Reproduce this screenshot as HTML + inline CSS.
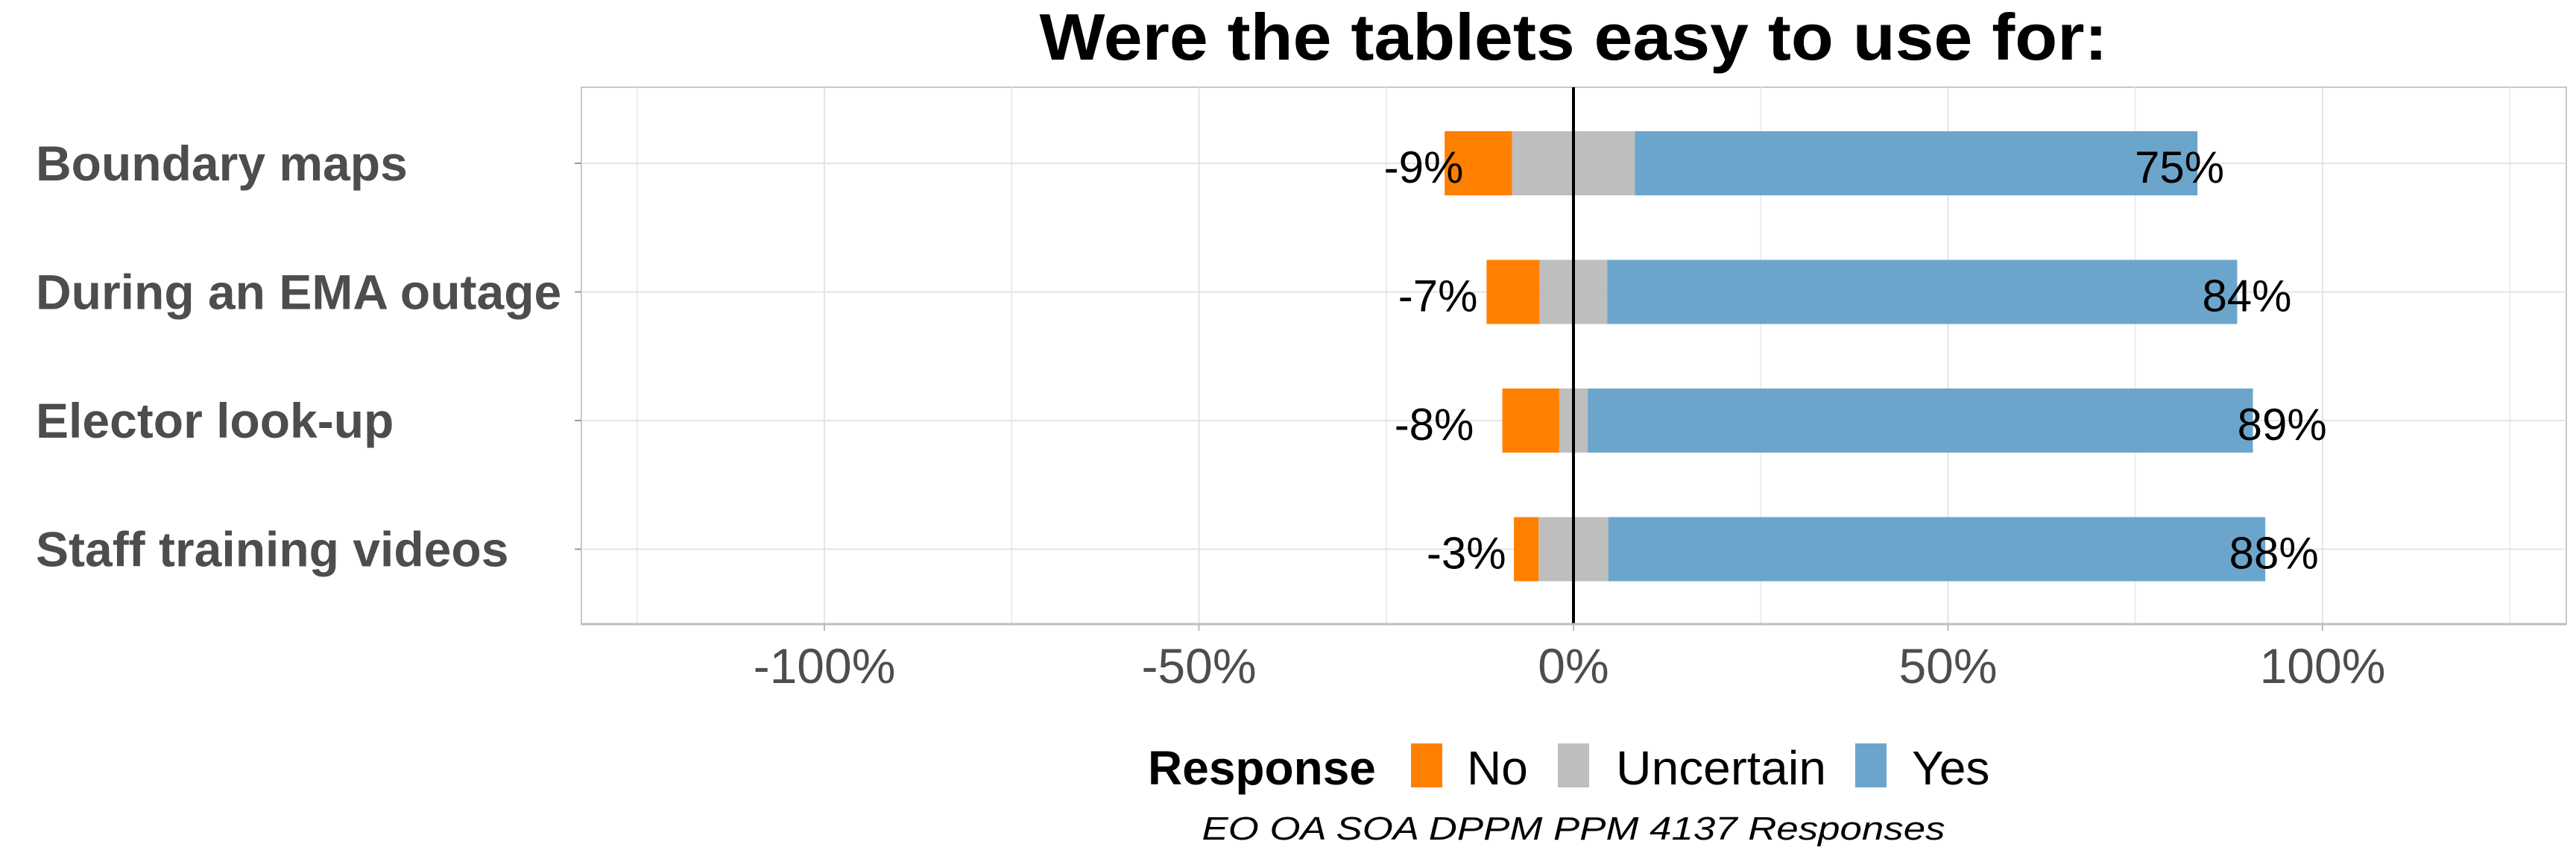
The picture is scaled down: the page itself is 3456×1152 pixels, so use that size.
<!DOCTYPE html>
<html><head><meta charset="utf-8"><style>
html,body{margin:0;padding:0;background:#fff}
svg{display:block}
text{font-family:"Liberation Sans",Arial,sans-serif}
</style></head><body>
<svg id="chart" width="3456" height="1152" viewBox="0 0 3456 1152" xmlns="http://www.w3.org/2000/svg">
<text x="2111" y="80" text-anchor="middle" font-size="88" font-weight="bold" textLength="1433" lengthAdjust="spacingAndGlyphs">Were the tablets easy to use for:</text>
<g id="panel"></g>
<g id="legend">
<text x="1540" y="1052" font-size="64" font-weight="bold">Response</text>
<rect x="1893" y="997" width="42" height="59" fill="#FF8000"/>
<text x="1968" y="1052" font-size="64">No</text>
<rect x="2090" y="997" width="42" height="59" fill="#BEBEBE"/>
<text x="2168" y="1052" font-size="64" textLength="282" lengthAdjust="spacingAndGlyphs">Uncertain</text>
<rect x="2489" y="997" width="42" height="59" fill="#6CA5CC"/>
<text x="2565" y="1052" font-size="64">Yes</text>
</g>
<text x="2111" y="1126" text-anchor="middle" font-size="44" font-style="italic" textLength="997" lengthAdjust="spacingAndGlyphs">EO OA SOA DPPM PPM 4137 Responses</text>
</svg>
<script>
const categories = ["Boundary maps","During an EMA outage","Elector look-up","Staff training videos"];
const noVals = [9.0, 7.1, 7.6, 3.3];
const uncertainVals = [16.4, 9.0, 3.8, 9.3];
const yesVals = [75.1, 84.1, 88.8, 87.7];
const noLabels = ["-9%","-7%","-8%","-3%"];
const yesLabels = ["75%","84%","89%","88%"];
const xTicks = [-100,-50,0,50,100];
const xMinor = [-125,-75,-25,25,75,125];

const NS="http://www.w3.org/2000/svg";
const L=780,R=3443,T=117,B=837,X0=2111,PX=10.05;
const x = v => X0 + v*PX;
const rowY = i => 219 + i*172.5;
const BH=86;
const panel=document.getElementById('panel');
function mk(tag,attrs,parent){const e=document.createElementNS(NS,tag);for(const k in attrs)e.setAttribute(k,attrs[k]);(parent||panel).appendChild(e);return e;}

let r=mk('rect',{x:L,y:T,width:R-L,height:B-T,fill:'#fff',stroke:'#c8c8c8','stroke-width':2});


xMinor.forEach(v=>{const l=mk('line',{x1:x(v),x2:x(v),y1:T,y2:B,stroke:'#ececec','stroke-width':2});

});
xTicks.forEach(v=>{const l=mk('line',{x1:x(v),x2:x(v),y1:T,y2:B,stroke:'#e4e4e4','stroke-width':2});

});
categories.forEach((c,i)=>{const l=mk('line',{x1:L,x2:R,y1:rowY(i),y2:rowY(i),stroke:'#e4e4e4','stroke-width':2});


const tk=mk('line',{x1:L-9,x2:L,y1:rowY(i),y2:rowY(i),stroke:'#999','stroke-width':2});


const t=mk('text',{x:48,y:rowY(i)+23,'font-size':66,'font-weight':'bold',fill:'#4d4d4d'});
t.textContent=c;

});

categories.forEach((c,i)=>{
  const y0=rowY(i)-BH/2, h=uncertainVals[i]/2;
  const n=mk('rect',{x:x(-h-noVals[i]),y:y0,width:x(-h)-x(-h-noVals[i]),height:BH,fill:'#FF8000'});
  
  
  const u=mk('rect',{x:x(-h),y:y0,width:x(h)-x(-h),height:BH,fill:'#BEBEBE'});
  
  
  const ye=mk('rect',{x:x(h),y:y0,width:x(h+yesVals[i])-x(h),height:BH,fill:'#6CA5CC'});
  
  
  const ln=mk('text',{x:x(-(noVals[i]+11)),y:rowY(i)+26,'font-size':60,'text-anchor':'middle',fill:'#000'});
  ln.textContent=noLabels[i];
  
  
  const ly=mk('text',{x:x(yesVals[i]+5.8),y:rowY(i)+26,'font-size':60,'text-anchor':'middle',fill:'#000'});
  ly.textContent=yesLabels[i];
  
  
});
const z=mk('line',{x1:x(0),x2:x(0),y1:T,y2:B,stroke:'#000','stroke-width':4});


const ax=mk('line',{x1:L,x2:R,y1:B,y2:B,stroke:'#bdbdbd','stroke-width':3});


xTicks.forEach(v=>{
  const tk=mk('line',{x1:x(v),x2:x(v),y1:B,y2:B+9,stroke:'#bdbdbd','stroke-width':2});
  
  
  const t=mk('text',{x:x(v),y:916,'font-size':66,'text-anchor':'middle',fill:'#4d4d4d'});
  t.textContent=v+'%';
  
  
});
</script>
</body></html>
